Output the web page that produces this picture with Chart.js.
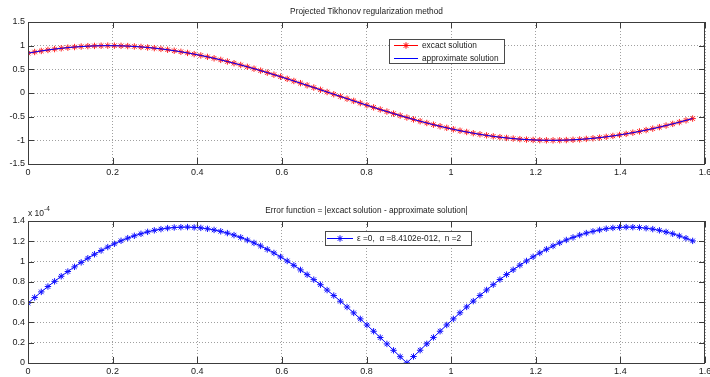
<!DOCTYPE html>
<html>
<head>
<meta charset="utf-8">
<script src="https://cdn.jsdelivr.net/npm/chart.js@4"></script>
<style>
  body { margin: 0; background: #fff; }
  #wrap { position: relative; width: 710px; height: 377px; background: #fff; }
  canvas { position: absolute; left: 0; }
</style>
</head>
<body>
<div id="wrap">
  <canvas id="solChart" width="710" height="190" style="top:0px"></canvas>
  <canvas id="errChart" width="710" height="187" style="top:190px"></canvas>
</div>
<script>
// sample points (x)
var xValues = [
  0, 0.0157, 0.0314, 0.0471, 0.0628, 0.0785, 0.0942, 0.1100, 0.1257, 0.1414,
  0.1571, 0.1728, 0.1885, 0.2042, 0.2199, 0.2356, 0.2513, 0.2670, 0.2827, 0.2985,
  0.3142, 0.3299, 0.3456, 0.3613, 0.3770, 0.3927, 0.4084, 0.4241, 0.4398, 0.4555,
  0.4712, 0.4869, 0.5027, 0.5184, 0.5341, 0.5498, 0.5655, 0.5812, 0.5969, 0.6126,
  0.6283, 0.6440, 0.6597, 0.6754, 0.6912, 0.7069, 0.7226, 0.7383, 0.7540, 0.7697,
  0.7854, 0.8011, 0.8168, 0.8325, 0.8482, 0.8639, 0.8796, 0.8954, 0.9111, 0.9268,
  0.9425, 0.9582, 0.9739, 0.9896, 1.0053, 1.0210, 1.0367, 1.0524, 1.0681, 1.0838,
  1.0996, 1.1153, 1.1310, 1.1467, 1.1624, 1.1781, 1.1938, 1.2095, 1.2252, 1.2409,
  1.2566, 1.2723, 1.2881, 1.3038, 1.3195, 1.3352, 1.3509, 1.3666, 1.3823, 1.3980,
  1.4137, 1.4294, 1.4451, 1.4608, 1.4765, 1.4923, 1.5080, 1.5237, 1.5394, 1.5551,
  1.5708
];

var exactSolution = [
  0.8415, 0.8660, 0.8886, 0.9092, 0.9278, 0.9444, 0.9588, 0.9711, 0.9813, 0.9893,
  0.9950, 0.9986, 1.0000, 0.9991, 0.9961, 0.9908, 0.9833, 0.9736, 0.9618, 0.9478,
  0.9317, 0.9136, 0.8934, 0.8712, 0.8471, 0.8212, 0.7934, 0.7638, 0.7326, 0.6997,
  0.6653, 0.6294, 0.5921, 0.5535, 0.5136, 0.4726, 0.4306, 0.3876, 0.3437, 0.2991,
  0.2538, 0.2080, 0.1617, 0.1150, 0.0681, 0.0210, -0.0261, -0.0732, -0.1201, -0.1667,
  -0.2130, -0.2588, -0.3040, -0.3485, -0.3923, -0.4352, -0.4771, -0.5180, -0.5577, -0.5962,
  -0.6333, -0.6690, -0.7032, -0.7358, -0.7668, -0.7965, -0.8236, -0.8494, -0.8732, -0.8951,
  -0.9156, -0.9331, -0.9491, -0.9631, -0.9748, -0.9842, -0.9914, -0.9965, -0.9993, -1.0000,
  -0.9983, -0.9945, -0.9885, -0.9803, -0.9698, -0.9572, -0.9425, -0.9257, -0.9068, -0.8859,
  -0.8630, -0.8382, -0.8115, -0.7831, -0.7528, -0.7209, -0.6874, -0.6523, -0.6157, -0.5778,
  -0.5403
];

var approxSolution = [
  0.842, 0.866, 0.889, 0.909, 0.928, 0.944, 0.959, 0.971, 0.981, 0.989,
  0.995, 0.999, 1.000, 0.999, 0.996, 0.991, 0.983, 0.974, 0.962, 0.948,
  0.932, 0.914, 0.893, 0.871, 0.847, 0.821, 0.793, 0.764, 0.733, 0.700,
  0.665, 0.629, 0.592, 0.554, 0.514, 0.473, 0.431, 0.388, 0.344, 0.299,
  0.254, 0.208, 0.162, 0.115, 0.068, 0.021, -0.026, -0.073, -0.120, -0.167,
  -0.213, -0.259, -0.304, -0.349, -0.392, -0.435, -0.477, -0.518, -0.558, -0.596,
  -0.633, -0.669, -0.703, -0.736, -0.767, -0.797, -0.824, -0.849, -0.873, -0.895,
  -0.916, -0.933, -0.949, -0.963, -0.975, -0.984, -0.991, -0.997, -0.999, -1.000,
  -0.998, -0.995, -0.989, -0.980, -0.970, -0.957, -0.943, -0.926, -0.907, -0.886,
  -0.863, -0.838, -0.812, -0.783, -0.753, -0.721, -0.687, -0.652, -0.616, -0.578,
  -0.540
];

// |exact - approximate|, in units of 1e-4
var errorValues = [
  0.590, 0.646, 0.701, 0.754, 0.805, 0.855, 0.902, 0.948, 0.992, 1.033,
  1.072, 1.109, 1.143, 1.175, 1.205, 1.231, 1.254, 1.274, 1.293, 1.308,
  1.320, 1.330, 1.336, 1.339, 1.340, 1.337, 1.332, 1.323, 1.312, 1.298,
  1.281, 1.261, 1.238, 1.212, 1.184, 1.154, 1.120, 1.085, 1.046, 1.006,
  0.963, 0.918, 0.871, 0.822, 0.772, 0.719, 0.665, 0.609, 0.552, 0.494,
  0.435, 0.374, 0.313, 0.251, 0.188, 0.125, 0.062, 0.001, 0.064, 0.126,
  0.189, 0.252, 0.313, 0.375, 0.435, 0.495, 0.553, 0.610, 0.666, 0.720,
  0.772, 0.823, 0.872, 0.919, 0.964, 1.006, 1.047, 1.085, 1.121, 1.154,
  1.185, 1.213, 1.238, 1.261, 1.281, 1.298, 1.312, 1.324, 1.332, 1.337,
  1.340, 1.339, 1.336, 1.329, 1.320, 1.308, 1.292, 1.274, 1.253, 1.230,
  1.204
];

var xTicks = [0, 0.2, 0.4, 0.6, 0.8, 1, 1.2, 1.4, 1.6];
var solTicks = [-1.5, -1, -0.5, 0, 0.5, 1, 1.5];
var errTicks = [0, 0.2, 0.4, 0.6, 0.8, 1, 1.2, 1.4];

var FONT = '"Liberation Sans", Arial, Helvetica, sans-serif';

function pts(ys) {
  return xValues.map(function (x, i) { return { x: x, y: ys[i] }; });
}

// box, inward ticks, title, legend and exponent label in MATLAB style
var matlabAxes = {
  id: 'matlabAxes',
  afterDraw: function (chart) {
    var o = chart.options.plugins.matlabAxes;
    var ctx = chart.ctx, a = chart.chartArea;
    var sx = chart.scales.x, sy = chart.scales.y;
    ctx.save();
    ctx.strokeStyle = '#3c3c3c';
    ctx.lineWidth = 1;
    ctx.beginPath();
    sx.ticks.forEach(function (t) {
      var px = Math.round(sx.getPixelForValue(t.value)) + 0.5;
      ctx.moveTo(px, a.bottom); ctx.lineTo(px, a.bottom - 6);
      ctx.moveTo(px, a.top); ctx.lineTo(px, a.top + 6);
    });
    sy.ticks.forEach(function (t) {
      var py = Math.round(sy.getPixelForValue(t.value)) + 0.5;
      ctx.moveTo(a.left, py); ctx.lineTo(a.left + 6, py);
      ctx.moveTo(a.right, py); ctx.lineTo(a.right - 6, py);
    });
    ctx.stroke();
    ctx.strokeRect(a.left + 0.5, a.top + 0.5, a.right - a.left - 1, a.bottom - a.top);

    ctx.fillStyle = '#1a1a1a';
    ctx.font = '8.3px ' + FONT;
    ctx.textAlign = 'center';
    ctx.textBaseline = 'middle';
    ctx.fillText(o.title, (a.left + a.right) / 2, o.titleY);

    if (o.exponent) {
      ctx.font = '8.5px ' + FONT;
      ctx.textAlign = 'left';
      ctx.textBaseline = 'alphabetic';
      ctx.fillText('x 10', a.left, o.exponentY);
      ctx.font = '6.5px ' + FONT;
      ctx.fillText('-4', a.left + 16, o.exponentY - 5);
    }

    // legend
    var lg = o.legend;
    ctx.fillStyle = '#fff';
    ctx.fillRect(lg.box[0], lg.box[1], lg.box[2] - lg.box[0], lg.box[3] - lg.box[1]);
    ctx.strokeStyle = '#4a4a4a';
    ctx.strokeRect(lg.box[0] + 0.5, lg.box[1] + 0.5, lg.box[2] - lg.box[0], lg.box[3] - lg.box[1]);
    ctx.font = '8.3px ' + FONT;
    ctx.textAlign = 'left';
    ctx.textBaseline = 'middle';
    lg.rows.forEach(function (r, i) {
      var ds = chart.data.datasets[i];
      ctx.strokeStyle = ds.borderColor;
      ctx.lineWidth = 1;
      ctx.beginPath();
      ctx.moveTo(lg.lineX[0], r + 0.5);
      ctx.lineTo(lg.lineX[1], r + 0.5);
      ctx.stroke();
      if (ds.pointRadius > 0) {
        Chart.helpers.drawPoint(ctx, {
          pointStyle: 'star', radius: ds.pointRadius, borderWidth: 1, rotation: 0
        }, (lg.lineX[0] + lg.lineX[1]) / 2, r + 0.5);
      }
      ctx.fillStyle = '#1a1a1a';
      ctx.fillText(ds.label, lg.textX, r + 0.5);
    });
    ctx.restore();
  }
};

function fmt(v) { return String(Math.round(v * 10) / 10); }

function axisOptions(yTicks, yMin, yMax) {
  return {
    x: {
      type: 'linear', min: 0, max: 1.6,
      afterBuildTicks: function (s) { s.ticks = xTicks.map(function (v) { return { value: v }; }); },
      afterFit: function (s) { s.paddingLeft = 0; s.paddingRight = 0; },
      grid: { color: '#a0a0a0', lineWidth: 1, drawTicks: false, borderDash: [1, 2] },
      border: { display: false, dash: [1, 2] },
      ticks: { color: '#1a1a1a', font: { family: FONT, size: 9 }, padding: 3, maxRotation: 0, autoSkip: false, callback: fmt }
    },
    y: {
      min: yMin, max: yMax,
      afterBuildTicks: function (s) { s.ticks = yTicks.map(function (v) { return { value: v }; }); },
      afterFit: function (s) { s.width = 28; },
      grid: { color: '#a0a0a0', lineWidth: 1, drawTicks: false, borderDash: [1, 2] },
      border: { display: false, dash: [1, 2] },
      ticks: { color: '#1a1a1a', font: { family: FONT, size: 9 }, padding: 3, autoSkip: false, callback: fmt }
    }
  };
}

var solScales = axisOptions(solTicks, -1.5, 1.5);
solScales.x.afterFit = function (s) { s.paddingLeft = 0; s.paddingRight = 0; s.height = 26; };

new Chart(document.getElementById('solChart'), {
  type: 'line',
  data: {
    datasets: [
      {
        label: 'excact solution',
        data: pts(exactSolution),
        order: 1,
        borderColor: '#ff0000',
        backgroundColor: '#ff0000',
        borderWidth: 1,
        pointStyle: 'star',
        pointRadius: 3.2,
        pointBorderWidth: 1,
        pointBorderColor: '#ff2020',
        tension: 0
      },
      {
        label: 'approximate solution',
        data: pts(approxSolution),
        order: 0,
        borderColor: '#0000ff',
        backgroundColor: '#0000ff',
        borderWidth: 1,
        pointRadius: 0,
        tension: 0
      }
    ]
  },
  options: {
    responsive: false,
    animation: false,
    events: [],
    layout: { padding: { top: 22, left: 0, right: 2, bottom: 0 } },
    scales: solScales,
    plugins: {
      legend: { display: false },
      tooltip: { enabled: false },
      matlabAxes: {
        title: 'Projected Tikhonov regularization method',
        titleY: 12,
        legend: { box: [389, 39, 504, 63], rows: [45, 58], lineX: [394, 418], textX: 422 }
      }
    }
  },
  plugins: [matlabAxes]
});

var errScales = axisOptions(errTicks, 0, 1.4);
errScales.x.afterFit = function (s) { s.paddingLeft = 0; s.paddingRight = 0; s.height = 14; };

new Chart(document.getElementById('errChart'), {
  type: 'line',
  data: {
    datasets: [
      {
        label: '\u03b5 =0,  \u03b1 =8.4102e-012,  n =2',
        data: pts(errorValues),
        borderColor: '#0000ff',
        backgroundColor: '#0000ff',
        borderWidth: 1,
        pointStyle: 'star',
        pointRadius: 3.2,
        pointBorderWidth: 1,
        pointBorderColor: '#1010ff',
        tension: 0
      }
    ]
  },
  options: {
    responsive: false,
    animation: false,
    events: [],
    layout: { padding: { top: 31, left: 0, right: 2, bottom: 0 } },
    scales: errScales,
    plugins: {
      legend: { display: false },
      tooltip: { enabled: false },
      matlabAxes: {
        title: 'Error function = |excact solution - approximate solution|',
        titleY: 21,
        exponent: true,
        exponentY: 26,
        legend: { box: [325, 41, 471, 55], rows: [48], lineX: [327, 353], textX: 357 }
      }
    }
  },
  plugins: [matlabAxes]
});
</script>
</body>
</html>
